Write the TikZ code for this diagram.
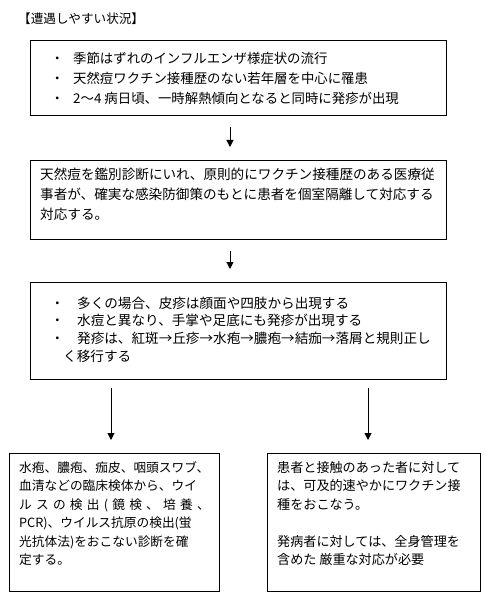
\documentclass[tikz,border=0pt]{standalone}
\usepackage{fontspec}
\newfontfamily\jp{Noto Sans CJK JP}
\usetikzlibrary{arrows.meta,calc}
\begin{document}
\begin{tikzpicture}[x=1pt,y=-1pt,
  box/.style={draw,line width=1pt,inner sep=0pt,anchor=north west},
  txt/.style={inner sep=0pt,anchor=north west,align=left},
  arr/.style={line width=1pt,-{Triangle[length=7pt,width=7pt]}}]
\useasboundingbox (0,0) rectangle (486,601);
\node[txt,font=\jp\fontsize{12.6}{18}\selectfont] (title) at (18,12.7) {【遭遇しやすい状況】};
\node[box,minimum width=416pt,minimum height=75pt] (b1) at (30,40) {};
\node[box,minimum width=416pt,minimum height=79pt] (b2) at (30,160) {};
\node[box,minimum width=416pt,minimum height=97pt] (b3) at (30,282) {};
\node[box,minimum width=210pt,minimum height=138pt] (b4) at (9,453) {};
\node[box,minimum width=213pt,minimum height=138pt] (b5) at (267,453) {};
\node[txt,font=\jp\fontsize{13.4}{20}\selectfont] (t1) at (50.5,51.8) {%
\makebox[22.5pt][l]{・}季節はずれのインフルエンザ様症状の流行\\
\makebox[22.5pt][l]{・}天然痘ワクチン接種歴のない若年層を中心に罹患\\
\makebox[22.5pt][l]{・}2〜4 病日頃、一時解熱傾向となると同時に発疹が出現};
\node[txt,font=\jp\fontsize{13.6}{20}\selectfont] (t2) at (40,167.8) {%
天然痘を鑑別診断にいれ、原則的にワクチン接種歴のある医療従\\
事者が、確実な感染防御策のもとに患者を個室隔離して対応する\\
対応する。};
\node[txt,font=\jp\fontsize{13.6}{17.6}\selectfont] (t3) at (50.5,296.7) {%
\makebox[26.5pt][l]{・}多くの場合、皮疹は顔面や四肢から出現する\\
\makebox[26.5pt][l]{・}水痘と異なり、手掌や足底にも発疹が出現する\\
\makebox[26.5pt][l]{・}発疹は、紅斑→丘疹→水疱→膿疱→結痂→落屑と規則正し\\
\hspace*{12.5pt}く移行する};
\node[txt,font=\jp\fontsize{12.7}{18.5}\selectfont] (t4) at (19,461.2) {%
水疱、膿疱、痂皮、咽頭スワブ、\\
血清などの臨床検体から、ウイ\\
\makebox[190.5pt][s]{ル\hfil ス\hfil の\hfil 検\hfil 出\hfil (\hfil 鏡\hfil 検\hfil 、\hfil 培\hfil 養\hfil 、}\\
PCR)、ウイルス抗原の検出(蛍\\
光抗体法)をおこない診断を確\\
定する。};
\node[txt,font=\jp\fontsize{13.1}{18.5}\selectfont] (t5) at (277,461) {%
患者と接触のあった者に対して\\
は、可及的速やかにワクチン接\\
種をおこなう。\\[18.5pt]
発病者に対しては、全身管理を\\
含めた 厳重な対応が必要};
\draw[arr] ([xshift=-8.5pt,yshift=-11pt]b1.south) -- ([xshift=-8.5pt,yshift=13pt]b2.north);
\draw[arr] ([xshift=-8.5pt,yshift=-11pt]b2.south) -- ([xshift=-8.5pt,yshift=13pt]b3.north);
\draw[arr] ([xshift=81pt,yshift=-8pt]b3.south west) -- ([xshift=102pt,yshift=13pt]b4.north west);
\draw[arr] ([xshift=338pt,yshift=-8pt]b3.south west) -- ([xshift=101pt,yshift=13pt]b5.north west);
\end{tikzpicture}
\end{document}
